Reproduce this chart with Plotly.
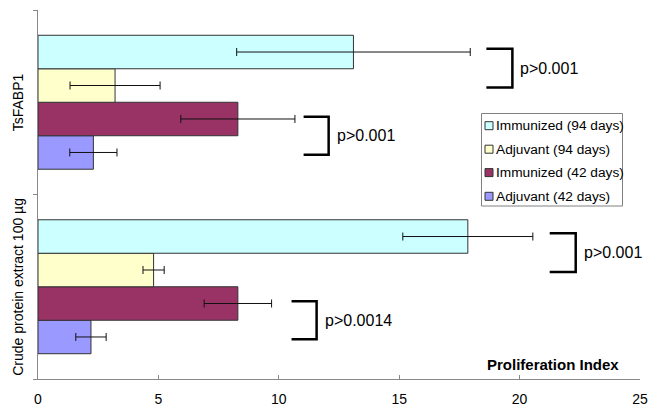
import plotly.graph_objects as go

# Antigen groups (bottom to top on the category axis)
categories = ["Crude protein extract 100 µg", "TsFABP1"]

# Proliferation index means and standard deviations per group
immunized_94 = [17.85, 13.1]
immunized_94_sd = [2.7, 4.85]
adjuvant_94 = [4.8, 3.2]
adjuvant_94_sd = [0.44, 1.87]
immunized_42 = [8.3, 8.3]
immunized_42_sd = [1.4, 2.37]
adjuvant_42 = [2.2, 2.3]
adjuvant_42_sd = [0.63, 0.98]

series_names = ["Immunized (94 days)", "Adjuvant (94 days)",
                "Immunized (42 days)", "Adjuvant (42 days)"]
series_values = [immunized_94, adjuvant_94, immunized_42, adjuvant_42]
series_sd = [immunized_94_sd, adjuvant_94_sd, immunized_42_sd, adjuvant_42_sd]
series_colors = ["#CCFFFF", "#FFFFCC", "#993366", "#9999FF"]

# Significance labels for each bracket: (category index, pair, label)
p_labels = ["p>0.001", "p>0.001", "p>0.001", "p>0.0014"]
p_category = [1, 1, 0, 0]
p_pair = ["upper", "lower", "upper", "lower"]

FONT = "Arial, Liberation Sans, sans-serif"
W, H = 657, 406
ML, MR, MT, MB = 38, 17, 10, 27

fig = go.Figure()

# grouped bars: Plotly stacks horizontal groups upward, so add bottom bar first
for name, vals, sd, col in reversed(list(zip(series_names, series_values,
                                             series_sd, series_colors))):
    fig.add_trace(go.Bar(
        y=categories, x=vals, name=name, orientation="h",
        marker=dict(color=col, line=dict(color="#333333", width=1)),
        error_x=dict(type="data", array=sd, visible=True,
                     color="#111111", thickness=1, width=4),
        showlegend=False,
    ))

# bracket geometry (x extent in data units, y offsets from category centre)
bracket_x = [(18.62, 19.7), (11.03, 12.07), (21.25, 22.33), (10.53, 11.57)]
bracket_y = {"upper": (0.29, 0.08), "lower": (-0.078, -0.285)}

shapes = []
annotations = []
for (x0, x1), cat, pair, label in zip(bracket_x, p_category, p_pair, p_labels):
    ya, yb = bracket_y[pair]
    ya += cat
    yb += cat
    shapes.append(dict(
        type="path", xref="x", yref="y",
        path=f"M {x0},{ya} L {x1},{ya} L {x1},{yb} L {x0},{yb}",
        line=dict(color="black", width=2.5),
    ))
    annotations.append(dict(
        x=x1 + 0.25, y=(ya + yb) / 2, xref="x", yref="y",
        text=label, showarrow=False, xanchor="left", yanchor="middle",
        font=dict(family=FONT, size=16, color="black"),
    ))


def px_to_paper(px, py):
    return ((px - ML) / (W - ML - MR), (H - MB - py) / (H - MT - MB))


# vertical category labels centred on each category band
lab_x, _ = px_to_paper(18, 0)
for i, cat in enumerate(categories):
    annotations.append(dict(
        x=lab_x, y=i, xref="paper", yref="y", text=cat, textangle=-90,
        showarrow=False, xanchor="center", yanchor="middle",
        font=dict(family=FONT, size=14, color="black"),
    ))

# axis title placed inside the plot, above the x axis
tx, ty = px_to_paper(621, 364)
annotations.append(dict(
    x=tx, y=ty, xref="paper", yref="paper", text="<b>Proliferation Index</b>",
    showarrow=False, xanchor="right", yanchor="middle",
    font=dict(family=FONT, size=15, color="black"),
))

# legend box
lx0, ly0 = px_to_paper(481.5, 206)
lx1, ly1 = px_to_paper(622.5, 113.5)
shapes.append(dict(type="rect", xref="paper", yref="paper",
                   x0=lx0, x1=lx1, y0=ly0, y1=ly1,
                   line=dict(color="#808080", width=1), fillcolor="white",
                   layer="above"))
item_y = [125.7, 149.2, 172.6, 196.3]
for name, col, iy in zip(series_names, series_colors, item_y):
    sx0, sy0 = px_to_paper(485, iy + 4)
    sx1, sy1 = px_to_paper(493, iy - 4)
    shapes.append(dict(type="rect", xref="paper", yref="paper",
                       x0=sx0, x1=sx1, y0=sy0, y1=sy1,
                       line=dict(color="#333333", width=1), fillcolor=col,
                       layer="above"))
    ax_, ay_ = px_to_paper(494, iy)
    annotations.append(dict(
        x=ax_, y=ay_, xref="paper", yref="paper", text=name,
        showarrow=False, xanchor="left", yanchor="middle",
        font=dict(family=FONT, size=13.7, color="black"),
    ))

fig.update_layout(
    width=W, height=H,
    margin=dict(l=ML, r=MR, t=MT, b=MB, pad=0, autoexpand=False),
    paper_bgcolor="white", plot_bgcolor="white",
    barmode="group", bargap=0.274, bargroupgap=0,
    showlegend=False,
    shapes=shapes, annotations=annotations,
    font=dict(family=FONT, color="black"),
    xaxis=dict(
        range=[0, 25], tickvals=[0, 5, 10, 15, 20, 25],
        showgrid=False, zeroline=False, automargin=False,
        showline=True, linecolor="#888888", linewidth=1,
        ticks="inside", ticklen=4, tickcolor="#888888",
        ticklabelstandoff=7,
        tickfont=dict(family=FONT, size=14, color="black"),
    ),
    yaxis=dict(
        type="category", categoryorder="array", categoryarray=categories,
        range=[-0.5, 1.5], tickson="boundaries",
        showgrid=False, zeroline=False, automargin=False,
        showline=True, linecolor="#888888", linewidth=1,
        ticks="outside", ticklen=4, tickcolor="#888888",
        showticklabels=False,
    ),
)

fig.write_html("out.html")
